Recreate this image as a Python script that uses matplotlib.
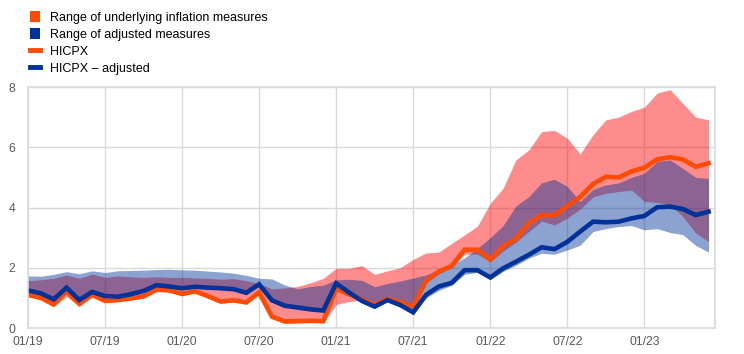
import matplotlib.pyplot as plt
import numpy as np
from matplotlib.patches import Patch
from matplotlib.lines import Line2D

plt.rcParams['font.family'] = ['Liberation Sans', 'DejaVu Sans']

# monthly observations, 01/19 .. 06/23
months = np.arange(54)
tick_pos = [0, 6, 12, 18, 24, 30, 36, 42, 48]
tick_labels = ["01/19", "07/19", "01/20", "07/20", "01/21", "07/21", "01/22", "07/22", "01/23"]

hicpx = [1.1, 1.0, 0.78, 1.22, 0.8, 1.1, 0.9, 0.93, 0.98, 1.05, 1.27, 1.25,
         1.13, 1.22, 1.06, 0.88, 0.92, 0.85, 1.18, 0.38, 0.22, 0.23, 0.24, 0.23,
         1.3, 1.12, 0.95, 0.77, 0.97, 0.85, 0.72, 1.56, 1.88, 2.06, 2.6, 2.6,
         2.27, 2.72, 2.96, 3.48, 3.75, 3.74, 4.05, 4.35, 4.78, 5.02, 5.0, 5.2,
         5.32, 5.6, 5.67, 5.6, 5.35, 5.47]

hicpx_adj = [1.25, 1.15, 0.95, 1.34, 0.93, 1.2, 1.06, 1.04, 1.12, 1.23, 1.42, 1.38,
             1.32, 1.37, 1.34, 1.32, 1.29, 1.17, 1.45, 0.92, 0.74, 0.68, 0.62, 0.58,
             1.48, 1.18, 0.9, 0.71, 0.93, 0.76, 0.52, 1.1, 1.38, 1.5, 1.92, 1.92,
             1.68, 1.98, 2.2, 2.43, 2.68, 2.62, 2.86, 3.2, 3.53, 3.51, 3.53, 3.64,
             3.72, 4.01, 4.03, 3.95, 3.75, 3.86]

under_hi = [1.57, 1.6, 1.65, 1.76, 1.65, 1.79, 1.68, 1.73, 1.7, 1.68, 1.7, 1.68,
            1.68, 1.66, 1.65, 1.62, 1.64, 1.57, 1.48, 1.3, 1.33, 1.38, 1.5, 1.65,
            1.98, 1.98, 2.07, 1.78, 1.9, 2.0, 2.28, 2.49, 2.52, 2.81, 3.09, 3.38,
            4.14, 4.64, 5.58, 5.91, 6.52, 6.56, 6.3, 5.78, 6.41, 6.91, 7.0, 7.19,
            7.33, 7.8, 7.91, 7.46, 7.0, 6.91]

under_lo = [1.05, 0.95, 0.72, 1.05, 0.72, 1.05, 0.85, 0.88, 0.93, 1.0, 1.22, 1.2,
            1.08, 1.17, 1.0, 0.82, 0.87, 0.8, 1.12, 0.3, 0.15, 0.17, 0.18, 0.17,
            0.78, 0.88, 0.92, 0.72, 0.9, 0.8, 0.65, 1.5, 1.8, 2.0, 2.45, 2.45,
            2.2, 2.55, 2.85, 3.2, 3.55, 3.42, 3.65, 3.95, 4.35, 4.47, 4.53, 4.58,
            4.2, 4.17, 4.09, 3.7, 3.15, 2.87]

adj_hi = [1.73, 1.72, 1.78, 1.87, 1.8, 1.9, 1.84, 1.9, 1.91, 1.92, 1.94, 1.95,
          1.93, 1.92, 1.89, 1.86, 1.82, 1.75, 1.65, 1.63, 1.43, 1.3, 1.38, 1.42,
          1.6, 1.62, 1.58, 1.37, 1.48, 1.56, 1.66, 1.76, 1.95, 2.08, 2.33, 2.65,
          3.0, 3.4, 4.05, 4.36, 4.82, 4.94, 4.7, 4.2, 4.6, 4.75, 4.82, 5.0,
          5.14, 5.53, 5.58, 5.3, 5.0, 4.97]

adj_lo = [1.2, 1.1, 0.9, 1.28, 0.88, 1.15, 1.0, 1.0, 1.07, 1.18, 1.37, 1.33,
          1.27, 1.32, 1.3, 1.28, 1.25, 1.12, 1.4, 0.88, 0.7, 0.64, 0.58, 0.54,
          1.42, 1.12, 0.85, 0.66, 0.88, 0.71, 0.47, 1.0, 1.25, 1.42, 1.78, 1.85,
          1.6, 1.88, 2.08, 2.32, 2.48, 2.45, 2.59, 2.75, 3.2, 3.3, 3.37, 3.4,
          3.26, 3.3, 3.17, 3.1, 2.74, 2.52]

orange = "#FF4B00"
blue = "#003299"
grey = "#595959"
light = "#d9d9d9"

fig = plt.figure(figsize=(7.44, 3.54), dpi=100)
ax = fig.add_axes([0.0376, 0.0734, 0.9234, 0.6808])

ax.fill_between(months, under_lo, under_hi, color="#FF0000", alpha=0.45, lw=0)
ax.fill_between(months, adj_lo, adj_hi, color=blue, alpha=0.45, lw=0)
ax.plot(months, hicpx, color=orange, lw=3.3, solid_joinstyle="miter")
ax.plot(months, hicpx_adj, color=blue, lw=3.3, solid_joinstyle="miter")

ax.set_xlim(0, 53.5)
ax.set_ylim(0, 8)
ax.set_xticks(tick_pos, tick_labels)
ax.set_yticks([0, 2, 4, 6, 8])
ax.tick_params(length=0, labelsize=8.8, labelcolor=grey)
ax.tick_params(axis="y", pad=9)
ax.tick_params(axis="x", pad=6)
ax.grid(color=light, lw=1)
ax.set_axisbelow(True)
for s in ax.spines.values():
    s.set_color(light)
    s.set_linewidth(1.2)

handles = [Patch(facecolor=orange, edgecolor="none"),
           Patch(facecolor=blue, edgecolor="none"),
           Line2D([], [], color=orange, lw=3.5),
           Line2D([], [], color=blue, lw=3.5)]
labels = ["Range of underlying inflation measures", "Range of adjusted measures",
          "HICPX", "HICPX \u2013 adjusted"]
fig.legend(handles, labels, loc="upper left", bbox_to_anchor=(0.028, 0.993),
           frameon=False, fontsize=9, handlelength=0.85, handleheight=0.9,
           handletextpad=0.8, labelspacing=0.36, borderaxespad=0.3)

fig.savefig("out.png", dpi=100)
